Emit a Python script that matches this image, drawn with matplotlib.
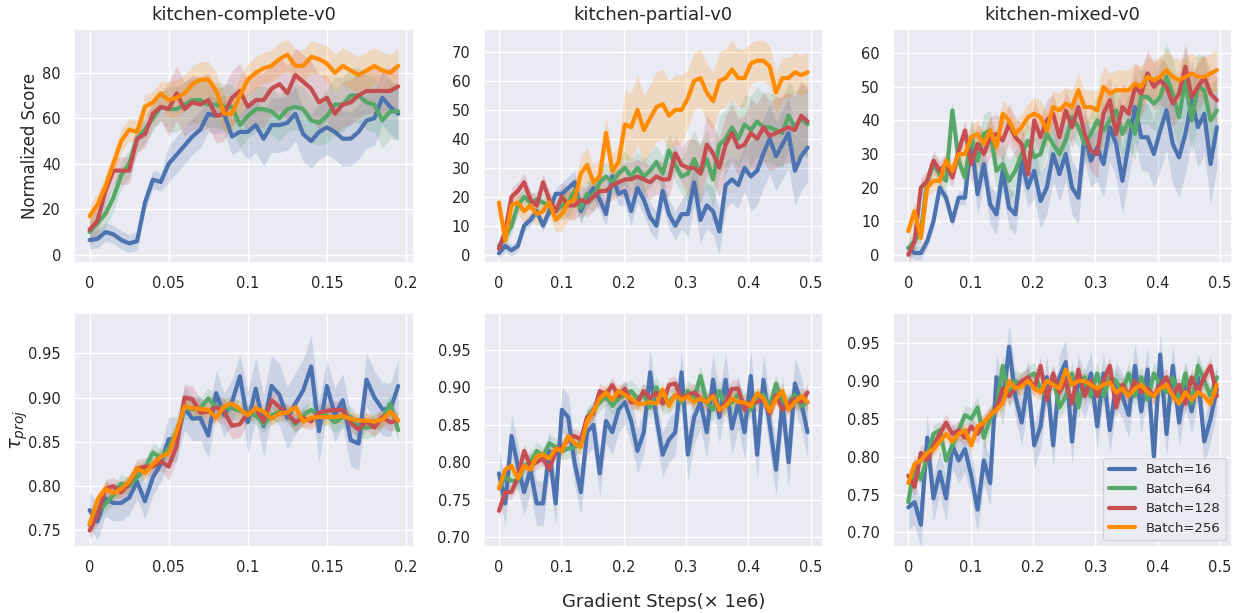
import numpy as np
import matplotlib
matplotlib.use("Agg")
import matplotlib.pyplot as plt
import seaborn as sns
from matplotlib.ticker import FuncFormatter

sns.set_theme(style="darkgrid")
plt.rcParams['font.family'] = ['DejaVu Sans']

labels = ["Batch=16", "Batch=64", "Batch=128", "Batch=256"]
colors = ["#4C72B0", "#55A868", "#C44E52", "#FF8C00"]
titles = ["kitchen-complete-v0", "kitchen-partial-v0", "kitchen-mixed-v0"]

# gradient steps (x 1e6)
steps_complete = np.linspace(0, 0.195, 40)
steps_long = np.linspace(0, 0.495, 50)

# ---- normalized score, kitchen-complete ----
score_complete_16 = [6.5, 7, 10, 9, 6.5, 5, 6, 23, 33, 32, 40, 44, 48, 52, 55, 62, 61, 62, 52, 54,
                     54, 57, 51, 57, 57, 58, 62, 53, 50, 54, 56, 54, 51, 51, 54, 59, 60, 69, 65, 62]
score_complete_64 = [10, 14, 18, 25, 35, 40, 51, 55, 60, 65, 64, 64, 66, 68, 68, 66, 66, 65, 65, 57,
                     61, 64, 64, 63, 60, 64, 65, 64, 59, 58, 61, 66, 66, 70, 70, 67, 66, 59, 63, 63]
score_complete_128 = [11, 15, 28, 37, 37, 37, 51, 53, 62, 65, 64, 71, 64, 67, 66, 68, 61, 62, 69, 72,
                      65, 68, 68, 73, 75, 71, 79, 76, 73, 67, 69, 62, 66, 67, 70, 72, 72, 72, 72, 74]
score_complete_256 = [17, 22, 30, 40, 50, 55, 54, 65, 67, 71, 68, 69, 71, 75, 77, 77, 72, 62, 62, 70,
                      77, 80, 82, 83, 86, 88, 83, 83, 87, 86, 84, 80, 83, 81, 79, 81, 83, 81, 80, 83]
band_score_complete = [[4, 8, 12, 12], [6, 10, 10, 12], [6, 12, 12, 10], [5, 8, 7, 8]]

# ---- normalized score, kitchen-partial ----
score_partial_16 = [0.5, 3, 1.5, 3, 10, 12, 15, 10, 15, 21, 21, 23, 25, 15, 20, 23, 19, 14, 27, 21,
                    22, 15, 23, 19, 13, 10, 22, 14, 10, 14, 14, 25, 12, 17, 15, 8, 24, 26, 24, 30,
                    27, 29, 35, 40, 34, 38, 42, 29, 34, 37]
score_partial_64 = [3, 6, 10, 17, 20, 18, 19, 18, 17, 15, 17, 18, 22, 16, 21, 20, 25, 27, 25, 28,
                    30, 27, 30, 27, 29, 32, 28, 36, 31, 27, 28, 33, 28, 33, 26, 38, 40, 44, 40, 45,
                    43, 46, 44, 44, 43, 42, 48, 44, 47, 45]
score_partial_128 = [2, 8, 20, 22, 25, 19, 17, 25, 19, 15, 20, 17, 17, 19, 18, 20, 22, 22, 24, 25,
                     26, 26, 27, 26, 25, 27, 26, 26, 35, 31, 30, 30, 28, 38, 35, 30, 38, 42, 37, 38,
                     42, 40, 44, 41, 42, 43, 44, 43, 48, 46]
score_partial_256 = [18, 5, 17, 18, 15, 17, 14, 15, 18, 12, 14, 18, 19, 28, 31, 25, 27, 42, 29, 32,
                     45, 44, 50, 43, 47, 51, 52, 48, 50, 50, 54, 60, 61, 56, 53, 60, 61, 64, 61, 61,
                     66, 67, 67, 65, 56, 61, 61, 63, 62, 63]
band_score_partial = [[2, 4, 5, 8, 12], [3, 5, 6, 10, 12], [3, 5, 6, 10, 12], [4, 6, 12, 10, 7]]

# ---- normalized score, kitchen-mixed ----
score_mixed_16 = [2, 0.5, 0.5, 4, 10, 20, 17, 10, 17, 17, 34, 18, 27, 15, 12, 25, 14, 12, 28, 20,
                  25, 16, 20, 30, 24, 30, 20, 17, 36, 28, 32, 27, 38, 33, 22, 33, 44, 35, 35, 30,
                  37, 43, 33, 29, 36, 46, 38, 42, 27, 38]
score_mixed_64 = [2, 4, 7, 22, 27, 24, 22, 43, 28, 23, 35, 28, 36, 37, 25, 27, 22, 25, 30, 34,
                  29, 30, 36, 33, 30, 34, 41, 38, 33, 36, 40, 37, 40, 43, 36, 40, 36, 47, 47, 45,
                  47, 53, 48, 41, 52, 40, 50, 49, 40, 43]
score_mixed_128 = [0, 4, 20, 22, 28, 25, 27, 23, 31, 37, 27, 33, 30, 35, 36, 34, 39, 35, 33, 24,
                   40, 35, 40, 42, 35, 43, 38, 44, 36, 31, 30, 42, 46, 36, 44, 42, 50, 48, 54, 50,
                   52, 50, 45, 48, 56, 47, 50, 53, 48, 46]
score_mixed_256 = [7, 13, 5, 20, 22, 22, 28, 25, 30, 30, 35, 36, 33, 37, 32, 42, 40, 36, 38, 41,
                   42, 41, 37, 44, 43, 45, 44, 49, 44, 44, 43, 50, 48, 49, 49, 49, 51, 50, 53, 52,
                   53, 55, 53, 52, 53, 54, 53, 53, 54, 55]
band_score_mixed = [[2, 6, 8, 10, 12], [3, 6, 6, 8, 10], [3, 6, 6, 7, 7], [3, 4, 5, 6, 6]]

# ---- tau_proj, kitchen-complete ----
tau_complete_16 = [0.773, 0.760, 0.786, 0.781, 0.781, 0.787, 0.805, 0.783, 0.810, 0.825,
                   0.853, 0.853, 0.888, 0.876, 0.877, 0.857, 0.905, 0.880, 0.895, 0.924,
                   0.872, 0.910, 0.868, 0.913, 0.903, 0.877, 0.893, 0.908, 0.935, 0.862,
                   0.913, 0.880, 0.897, 0.852, 0.848, 0.920, 0.900, 0.887, 0.886, 0.913]
tau_complete_64 = [0.756, 0.770, 0.780, 0.790, 0.803, 0.800, 0.810, 0.820, 0.838, 0.832,
                   0.843, 0.862, 0.888, 0.887, 0.888, 0.899, 0.889, 0.888, 0.888, 0.885,
                   0.882, 0.880, 0.870, 0.880, 0.884, 0.882, 0.870, 0.880, 0.886, 0.880,
                   0.880, 0.872, 0.878, 0.878, 0.866, 0.866, 0.868, 0.876, 0.893, 0.863]
tau_complete_128 = [0.750, 0.767, 0.797, 0.800, 0.793, 0.803, 0.820, 0.822, 0.822, 0.828,
                    0.822, 0.845, 0.900, 0.898, 0.883, 0.884, 0.889, 0.884, 0.868, 0.870,
                    0.882, 0.887, 0.873, 0.897, 0.889, 0.882, 0.872, 0.877, 0.873, 0.883,
                    0.885, 0.886, 0.886, 0.871, 0.864, 0.873, 0.866, 0.878, 0.872, 0.874]
tau_complete_256 = [0.757, 0.785, 0.797, 0.792, 0.797, 0.805, 0.820, 0.815, 0.825, 0.833,
                    0.837, 0.862, 0.890, 0.888, 0.887, 0.886, 0.877, 0.890, 0.893, 0.887,
                    0.880, 0.888, 0.884, 0.876, 0.882, 0.883, 0.889, 0.873, 0.877, 0.878,
                    0.878, 0.878, 0.879, 0.876, 0.874, 0.874, 0.873, 0.875, 0.884, 0.874]
band_tau_complete = [[0.02, 0.025, 0.035, 0.03], [0.01, 0.012, 0.01, 0.012],
                     [0.01, 0.015, 0.01, 0.01], [0.008, 0.008, 0.008, 0.008]]

# ---- tau_proj, kitchen-partial ----
tau_partial_16 = [0.785, 0.745, 0.835, 0.795, 0.760, 0.790, 0.745, 0.745, 0.815, 0.745,
                  0.870, 0.860, 0.800, 0.760, 0.840, 0.850, 0.785, 0.855, 0.840, 0.870,
                  0.880, 0.855, 0.815, 0.840, 0.920, 0.860, 0.810, 0.830, 0.840, 0.920,
                  0.810, 0.860, 0.880, 0.840, 0.910, 0.860, 0.910, 0.845, 0.880, 0.840,
                  0.915, 0.810, 0.910, 0.850, 0.790, 0.880, 0.800, 0.905, 0.880, 0.840]
tau_partial_64 = [0.765, 0.780, 0.775, 0.775, 0.795, 0.800, 0.815, 0.808, 0.825, 0.820,
                  0.815, 0.818, 0.820, 0.825, 0.860, 0.870, 0.880, 0.888, 0.875, 0.885,
                  0.890, 0.895, 0.885, 0.890, 0.873, 0.900, 0.880, 0.880, 0.890, 0.880,
                  0.895, 0.885, 0.915, 0.880, 0.870, 0.895, 0.875, 0.880, 0.890, 0.878,
                  0.870, 0.885, 0.890, 0.875, 0.905, 0.880, 0.880, 0.890, 0.875, 0.880]
tau_partial_128 = [0.735, 0.760, 0.760, 0.780, 0.815, 0.795, 0.800, 0.805, 0.790, 0.815,
                   0.820, 0.830, 0.835, 0.830, 0.860, 0.865, 0.895, 0.890, 0.903, 0.888,
                   0.898, 0.880, 0.880, 0.895, 0.885, 0.893, 0.878, 0.903, 0.905, 0.885,
                   0.890, 0.893, 0.885, 0.880, 0.890, 0.868, 0.880, 0.898, 0.898, 0.870,
                   0.880, 0.880, 0.885, 0.865, 0.890, 0.870, 0.878, 0.885, 0.880, 0.893]
tau_partial_256 = [0.765, 0.790, 0.795, 0.778, 0.795, 0.790, 0.808, 0.810, 0.805, 0.818,
                   0.815, 0.835, 0.825, 0.820, 0.855, 0.868, 0.885, 0.893, 0.883, 0.895,
                   0.890, 0.885, 0.878, 0.878, 0.880, 0.878, 0.897, 0.875, 0.890, 0.883,
                   0.888, 0.880, 0.885, 0.880, 0.888, 0.870, 0.875, 0.885, 0.880, 0.880,
                   0.875, 0.892, 0.885, 0.868, 0.885, 0.895, 0.870, 0.880, 0.888, 0.880]
band_tau_partial = [[0.03, 0.03, 0.03, 0.035, 0.035], [0.012, 0.012, 0.015, 0.015, 0.012],
                    [0.01, 0.01, 0.01, 0.012, 0.012], [0.008, 0.01, 0.01, 0.01, 0.01]]

# ---- tau_proj, kitchen-mixed ----
tau_mixed_16 = [0.733, 0.740, 0.710, 0.825, 0.745, 0.780, 0.745, 0.815, 0.795, 0.810,
                0.775, 0.730, 0.795, 0.765, 0.905, 0.870, 0.945, 0.880, 0.845, 0.900,
                0.815, 0.840, 0.905, 0.815, 0.905, 0.925, 0.820, 0.905, 0.880, 0.910,
                0.840, 0.910, 0.835, 0.895, 0.880, 0.855, 0.920, 0.860, 0.915, 0.800,
                0.935, 0.830, 0.920, 0.845, 0.895, 0.860, 0.905, 0.820, 0.850, 0.890]
tau_mixed_64 = [0.740, 0.790, 0.770, 0.800, 0.830, 0.835, 0.795, 0.815, 0.835, 0.855,
                0.850, 0.865, 0.825, 0.850, 0.865, 0.920, 0.880, 0.900, 0.895, 0.905,
                0.910, 0.890, 0.880, 0.905, 0.865, 0.880, 0.910, 0.865, 0.905, 0.880,
                0.910, 0.880, 0.905, 0.900, 0.885, 0.910, 0.880, 0.905, 0.875, 0.910,
                0.895, 0.885, 0.905, 0.875, 0.910, 0.870, 0.920, 0.900, 0.880, 0.905]
tau_mixed_128 = [0.775, 0.760, 0.805, 0.795, 0.815, 0.830, 0.845, 0.830, 0.835, 0.825,
                 0.840, 0.830, 0.845, 0.855, 0.865, 0.890, 0.880, 0.890, 0.900, 0.905,
                 0.890, 0.920, 0.875, 0.910, 0.885, 0.900, 0.870, 0.915, 0.880, 0.900,
                 0.880, 0.900, 0.920, 0.865, 0.895, 0.880, 0.900, 0.885, 0.890, 0.880,
                 0.895, 0.905, 0.880, 0.895, 0.870, 0.905, 0.885, 0.905, 0.920, 0.880]
tau_mixed_256 = [0.765, 0.790, 0.795, 0.805, 0.810, 0.820, 0.830, 0.820, 0.830, 0.835,
                 0.815, 0.840, 0.845, 0.855, 0.862, 0.870, 0.900, 0.890, 0.893, 0.900,
                 0.890, 0.885, 0.900, 0.895, 0.890, 0.915, 0.895, 0.900, 0.900, 0.895,
                 0.890, 0.895, 0.898, 0.885, 0.890, 0.880, 0.890, 0.895, 0.885, 0.880,
                 0.890, 0.895, 0.880, 0.870, 0.885, 0.875, 0.885, 0.880, 0.870, 0.895]
band_tau_mixed = [[0.03, 0.03, 0.03, 0.03, 0.03], [0.012, 0.015, 0.015, 0.015, 0.015],
                  [0.012, 0.012, 0.012, 0.012, 0.012], [0.01, 0.01, 0.01, 0.01, 0.01]]

panels = [
    (steps_complete, [score_complete_16, score_complete_64, score_complete_128, score_complete_256], band_score_complete),
    (steps_long, [score_partial_16, score_partial_64, score_partial_128, score_partial_256], band_score_partial),
    (steps_long, [score_mixed_16, score_mixed_64, score_mixed_128, score_mixed_256], band_score_mixed),
    (steps_complete, [tau_complete_16, tau_complete_64, tau_complete_128, tau_complete_256], band_tau_complete),
    (steps_long, [tau_partial_16, tau_partial_64, tau_partial_128, tau_partial_256], band_tau_partial),
    (steps_long, [tau_mixed_16, tau_mixed_64, tau_mixed_128, tau_mixed_256], band_tau_mixed),
]
ylims = [(-3.5, 99.3), (-2.8, 78), (-2.4, 67.3), (0.7316, 0.9955), (0.687, 0.9994), (0.681, 0.990)]
yticks = [np.arange(0, 81, 20), np.arange(0, 71, 10), np.arange(0, 61, 10),
          np.arange(0.75, 0.951, 0.05), np.arange(0.70, 0.951, 0.05), np.arange(0.70, 0.951, 0.05)]

fig, axes = plt.subplots(2, 3, figsize=(12.36, 6.13), dpi=100)
fig.subplots_adjust(left=0.06, right=0.997, bottom=0.108, top=0.953, wspace=0.206, hspace=0.214)

for k, ax in enumerate(axes.flat):
    x, series, bands = panels[k]
    for i in range(4):
        y = np.array(series[i])
        w = np.repeat(bands[i], len(y) // len(bands[i]))
        ax.fill_between(x, y - w, y + w, color=colors[i], alpha=0.2, linewidth=0)
        ax.plot(x, y, color=colors[i], lw=3, label=labels[i])
    ax.set_ylim(*ylims[k])
    ax.set_yticks(yticks[k])
    if k % 3 == 0:
        ax.set_xticks([0, 0.05, 0.1, 0.15, 0.2])
    else:
        ax.set_xticks([0, 0.1, 0.2, 0.3, 0.4, 0.5])
    ax.xaxis.set_major_formatter(FuncFormatter(lambda v, p: "%g" % round(v, 3)))
    if k >= 3:
        ax.yaxis.set_major_formatter(FuncFormatter(lambda v, p: "%.2f" % v))
    ax.tick_params(labelsize=10.5)
    if k < 3:
        ax.set_title(titles[k], fontsize=13)

axes[0, 0].set_ylabel("Normalized Score", fontsize=12)
axes[0, 0].yaxis.set_label_coords(-0.105, 0.5)
axes[1, 0].set_ylabel(r"$\tau_{proj}$", fontsize=14)
axes[1, 0].yaxis.set_label_coords(-0.13, 0.5)
axes[1, 2].legend(loc="lower right", fontsize=9.5)
fig.text(0.537, 0.018, "Gradient Steps(× 1e6)", ha="center", va="center", fontsize=13)

fig.savefig("out.png", dpi=100)
